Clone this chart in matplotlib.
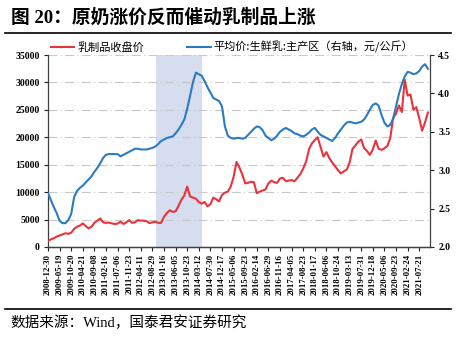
import numpy as np
import matplotlib
matplotlib.use('Agg')
import matplotlib.pyplot as plt
from matplotlib.lines import Line2D

plt.rcParams['font.family'] = ['Liberation Serif', 'Noto Sans CJK SC', 'DejaVu Sans']

# tick labels (category axis, one label every few weekly points)
tick_labels = ['2008-12-30', '2009-05-19', '2009-10-20', '2010-04-21', '2010-09-08',
               '2011-02-16', '2011-07-06', '2011-11-23', '2012-04-11', '2012-08-29',
               '2013-01-16', '2013-06-05', '2013-10-23', '2014-03-12', '2014-07-30',
               '2014-12-17', '2015-05-06', '2015-09-23', '2016-02-14', '2016-06-29',
               '2016-11-16', '2017-04-05', '2017-08-23', '2018-01-17', '2018-06-06',
               '2018-10-24', '2019-03-13', '2019-07-31', '2019-12-18', '2020-05-06',
               '2020-09-23', '2021-02-24', '2021-07-21']

# sampled 4 points per tick interval
dairy_close = [1100, 1400, 1600, 1900, 2100, 2300, 2500, 2400, 2600, 3300, 3700, 3900,
               4300, 3800, 3400, 3700, 4400, 4800, 5200, 4500, 4400, 4450, 4300, 4200,
               4250, 4600, 4200, 4500, 4900, 4400, 4500, 4900, 4800, 4800, 4700, 4350,
               4500, 4600, 4400, 4400, 5500, 6200, 6700, 6400, 6500, 7500, 8600, 9400,
               11000, 9200, 9000, 8800, 8200, 7900, 8200, 7400, 7800, 9000, 8700, 8300,
               9500, 9900, 10100, 11000, 12800, 15500, 14500, 13200, 11600, 11700, 11900, 11800,
               9800, 10100, 10300, 10500, 11600, 12100, 11800, 11700, 12500, 12600, 12000, 12100,
               12200, 12000, 12600, 13300, 14300, 15600, 17800, 18900, 19500, 20000, 18200, 16500,
               17300, 16200, 15400, 14700, 14000, 13400, 13800, 14100, 15400, 17900, 18500, 19200,
               19600, 18000, 17500, 16800, 17800, 19400, 17900, 17700, 18000, 18400, 19800, 23500,
               24300, 25800, 24600, 30500, 27600, 27800, 25000, 25500, 23500, 21200, 22700, 24500]

raw_milk = [2.70, 2.61, 2.52, 2.44, 2.34, 2.31, 2.31, 2.35, 2.43, 2.65, 2.73, 2.77,
            2.80, 2.84, 2.88, 2.92, 2.98, 3.03, 3.09, 3.16, 3.20, 3.21, 3.21, 3.21,
            3.21, 3.18, 3.20, 3.22, 3.24, 3.26, 3.28, 3.28, 3.27, 3.27, 3.27, 3.28,
            3.29, 3.31, 3.34, 3.38, 3.40, 3.42, 3.43, 3.44, 3.48, 3.53, 3.59, 3.66,
            3.80, 3.97, 4.15, 4.27, 4.25, 4.23, 4.16, 4.08, 4.01, 3.94, 3.92, 3.90,
            3.83, 3.57, 3.45, 3.42, 3.41, 3.42, 3.42, 3.41, 3.42, 3.46, 3.50, 3.54,
            3.57, 3.56, 3.52, 3.45, 3.42, 3.39, 3.41, 3.45, 3.50, 3.53, 3.55, 3.53,
            3.51, 3.48, 3.47, 3.45, 3.44, 3.46, 3.49, 3.53, 3.55, 3.50, 3.46, 3.44,
            3.42, 3.40, 3.38, 3.42, 3.48, 3.53, 3.58, 3.62, 3.63, 3.62, 3.61, 3.62,
            3.63, 3.66, 3.72, 3.79, 3.85, 3.87, 3.84, 3.72, 3.62, 3.57, 3.59, 3.67,
            3.83, 3.99, 4.12, 4.22, 4.28, 4.27, 4.25, 4.26, 4.29, 4.35, 4.38, 4.32]

shade_start, shade_end = 9.3, 13.25   # 2012-09 .. 2014-03, in tick units

red = '#e8333a'
blue = '#2b7bc4'

x = np.arange(len(dairy_close)) / 4.0

fig = plt.figure(figsize=(4.68, 3.56), dpi=100)
ax = fig.add_axes([0.1026, 0.3062, 0.8162, 0.5393])
ax2 = ax.twinx()

ax.axvspan(shade_start, shade_end, color='#d5ddef', lw=0, zorder=0)
for v in range(5000, 35001, 5000):
    ax.axhline(v, color='#c8c8c8', lw=0.8, ls=(0, (8, 3, 1, 3)), zorder=1)

l1, = ax.plot(x, dairy_close, color=red, lw=1.5, zorder=3)
l2, = ax2.plot(x, raw_milk, color=blue, lw=1.5, zorder=3)

ax.set_xlim(0, 32.93)
ax.set_ylim(0, 35000)
ax2.set_ylim(2.0, 4.5)
ax.set_yticks(range(0, 35001, 5000))
ax2.set_yticks(np.arange(2.0, 4.51, 0.5))
ax2.set_yticklabels([f'{v:.1f}' for v in np.arange(2.0, 4.51, 0.5)])
ax.set_xticks(range(len(tick_labels)))
ax.set_xticklabels(tick_labels, rotation=90)

for a in (ax, ax2):
    a.spines['top'].set_visible(False)
    for s in a.spines.values():
        s.set_color('#404040')
        s.set_linewidth(0.9)
ax2.spines['left'].set_visible(False)
ax.spines['right'].set_visible(False)

ax.tick_params(axis='y', length=3, width=0.8, pad=3, labelsize=7, colors='#222222')
ax.tick_params(axis='x', length=3, width=0.8, pad=2, labelsize=6.3, colors='#222222')
ax2.tick_params(axis='y', length=3, width=0.8, pad=3, labelsize=7, colors='#222222')
for lab in ax.get_xticklabels() + ax.get_yticklabels() + ax2.get_yticklabels():
    lab.set_fontweight('bold')
    lab.set_color('black')

fig.legend([l1, l2], ['乳制品收盘价', '平均价:生鲜乳:主产区（右轴，元/公斤）'],
           loc='center left', bbox_to_anchor=(0.108, 1 - 47 / 356), ncol=2,
           frameon=False, borderpad=0, borderaxespad=0, handlelength=2.1,
           handletextpad=0.3, columnspacing=3.9,
           prop={'family': ['Noto Sans CJK SC', 'DejaVu Sans'], 'size': 8})

fig.text(0.024, 1 - 18 / 356, '图 20：原奶涨价反而催动乳制品上涨', fontsize=13.5,
         fontweight='bold', va='center', ha='left',
         family=['Liberation Serif', 'Noto Sans CJK SC'])
fig.add_artist(Line2D([5 / 468, 451 / 468], [1 - 33 / 356, 1 - 33 / 356],
                      color='black', lw=1.2))
fig.add_artist(Line2D([5 / 468, 451 / 468], [1 - 309 / 356, 1 - 309 / 356],
                      color='black', lw=1.2))
fig.text(0.022, 1 - 323 / 356, '数据来源：Wind，国泰君安证券研究', fontsize=10.5,
         va='center', ha='left', family=['Liberation Serif', 'Noto Sans CJK SC'])

fig.savefig('out.png', dpi=100)
